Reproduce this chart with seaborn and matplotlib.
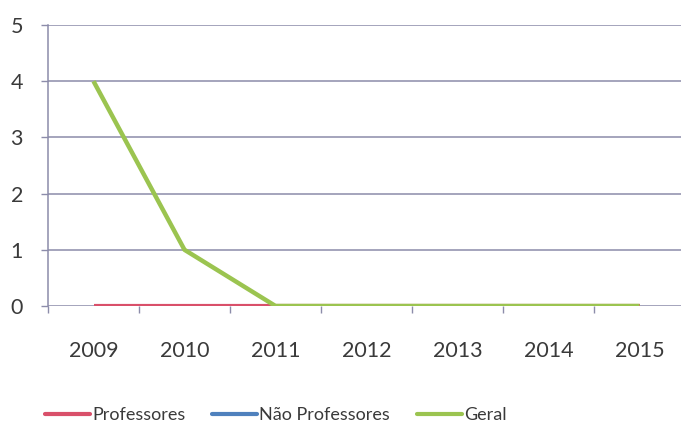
import numpy as np
import pandas as pd
import matplotlib
matplotlib.use("Agg")
import matplotlib.pyplot as plt
import seaborn as sns
from matplotlib.lines import Line2D

anos = ["2009", "2010", "2011", "2012", "2013", "2014", "2015"]
professores = [0, 0, 0, 0, 0, 0, 0]
nao_professores = [np.nan] * 7
geral = [4, 1, 0, 0, 0, 0, 0]

series = ["Professores", "Não Professores", "Geral"]
cores = ["#d9506a", "#4f81bd", "#9bc450"]
larguras = [3.0, 3.0, 3.2]

sns.set_theme(style="white")
plt.rcParams["font.family"] = ["Lato", "DejaVu Sans"]

df = pd.DataFrame({"pos": np.arange(len(anos)), "Professores": professores,
                   "Não Professores": nao_professores, "Geral": geral})

fig = plt.figure(figsize=(6.81, 4.30), dpi=100)
ax = fig.add_axes([48 / 681, 1 - 306 / 430, 637 / 681, 281 / 430])

for nome, cor, lw in zip(series, cores, larguras):
    d = df[["pos", nome]].dropna()
    if len(d):
        sns.lineplot(x=d["pos"], y=d[nome], ax=ax, color=cor, linewidth=lw,
                     solid_capstyle="butt", legend=False)

ax.set_xlim(-0.5, len(anos) - 0.5)
ax.set_ylim(0, 5)
ax.set_yticks(range(6))
ax.set_xticks(range(len(anos)))
ax.set_xticklabels(anos)
ax.set_xticks(np.arange(-0.5, len(anos), 1), minor=True)
ax.set_xlabel("")
ax.set_ylabel("")

ax.yaxis.grid(True, color="#8c8caa", linewidth=1.1)
ax.set_axisbelow(True)
for s in ["top", "right", "bottom"]:
    ax.spines[s].set_visible(False)
ax.spines["left"].set_color("#8c8caa")
ax.spines["left"].set_linewidth(1.1)

ax.tick_params(axis="x", which="major", length=0, pad=25, labelsize=15.5, labelcolor="#3a3a3a")
ax.tick_params(axis="x", which="minor", bottom=True, length=5, width=1, color="#8c8caa", direction="out")
ax.tick_params(axis="y", left=True, length=5, width=1, color="#8c8caa", pad=13,
               labelsize=15.5, labelcolor="#3a3a3a")

handles = [Line2D([], [], color=c, linewidth=3) for c in cores]
fig.legend(handles, series, loc="center", bbox_to_anchor=(0.405, 0.035), ncol=3,
           frameon=False, fontsize=13, handlelength=2.5, handletextpad=0.1,
           columnspacing=1.5, labelcolor="#3a3a3a")

fig.savefig("out.png", dpi=100)
